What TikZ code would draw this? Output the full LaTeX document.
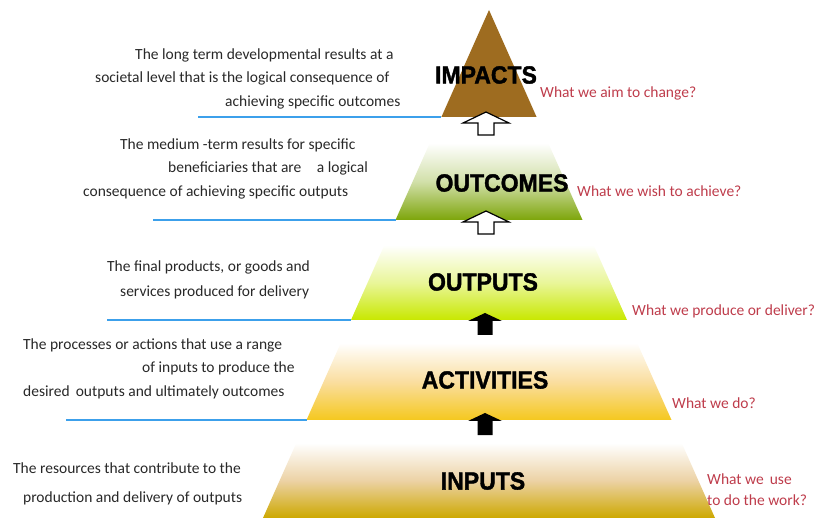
\documentclass[tikz,border=0pt]{standalone}
\usepackage{fontspec}
\setmainfont{Carlito}
\newfontfamily\labfont[BoldFeatures={FakeBold=1.6}]{Liberation Sans}
\definecolor{askred}{RGB}{190,60,75}
\definecolor{guideblue}{RGB}{60,160,235}
\definecolor{desctext}{RGB}{40,40,40}
\definecolor{impactbrown}{RGB}{158,108,32}
\definecolor{outcomegreen}{RGB}{125,165,10}
\definecolor{outputlime}{RGB}{200,232,0}
\definecolor{activityyellow}{RGB}{245,200,30}
\definecolor{activitymid}{RGB}{250,222,160}
\definecolor{inputgold}{RGB}{205,168,0}
\definecolor{inputmid}{RGB}{236,210,165}
\begin{document}
\begin{tikzpicture}[x=1pt,y=-1pt,
  desc/.style={anchor=base west, inner sep=0pt, font=\fontsize{15.5}{18}\selectfont, text=desctext},
  ask/.style={anchor=base west, inner sep=0pt, font=\fontsize{15.5}{18}\selectfont, text=askred},
  level/.style={inner sep=0pt, font=\labfont\bfseries\fontsize{23}{26}\selectfont, yscale=1.08, transform shape},
  guide/.style={draw=guideblue, line width=1.6pt},
  hollowup/.pic={\path[pic actions] (0,0)--(23,11)--(8,11)--(8,23)--(-8,23)--(-8,11)--(-23,11)--cycle;},
  solidup/.pic={\path[pic actions] (0,0)--(17,8)--(7.5,8)--(7.5,22)--(-7.5,22)--(-7.5,8)--(-17,8)--cycle;}
]
\useasboundingbox (0,0) rectangle (822,518);

% pyramid bands
\coordinate (apex) at (489,10);
\coordinate (impBL) at (441.4,117);
\coordinate (impBR) at (536.6,117);
\fill[impactbrown] (apex)--(impBR)--(impBL)--cycle;

\coordinate (ocTL) at (429.8,143);
\coordinate (ocTR) at (548.2,143);
\coordinate (ocBL) at (395.5,220);
\coordinate (ocBR) at (582.5,220);
\shade[top color=white, bottom color=outcomegreen, middle color=outcomegreen!35] (ocTL)--(ocTR)--(ocBR)--(ocBL)--cycle;

\coordinate (opTL) at (384.4,245);
\coordinate (opTR) at (593.6,245);
\coordinate (opBL) at (351,320);
\coordinate (opBR) at (627,320);
\shade[top color=white, bottom color=outputlime, middle color=outputlime!40] (opTL)--(opTR)--(opBR)--(opBL)--cycle;

\coordinate (acTL) at (340.8,343);
\coordinate (acTR) at (637.2,343);
\coordinate (acBL) at (306.5,420);
\coordinate (acBR) at (671.5,420);
\shade[top color=white, bottom color=activityyellow, middle color=activitymid] (acTL)--(acTR)--(acBR)--(acBL)--cycle;

\coordinate (inTL) at (296.3,443);
\coordinate (inTR) at (681.7,443);
\coordinate (inBL) at (263,518);
\coordinate (inBR) at (715,518);
\shade[top color=white, bottom color=inputgold, middle color=inputmid] (inTL)--(inTR)--(inBR)--(inBL)--cycle;

% level labels
\node[level] (impacts) at (486,75) {IMPACTS};
\node[level] (outcomes) at (502,183) {OUTCOMES};
\node[level] (outputs) at (483,282) {OUTPUTS};
\node[level] (activities) at (485,380) {ACTIVITIES};
\node[level] (inputs) at (483,481) {INPUTS};

% arrows between levels
\pic[draw=black, fill=white, line width=1.2pt] at (486,112) {hollowup};
\pic[draw=black, fill=white, line width=1.2pt] at (486,211) {hollowup};
\pic[fill=black] at (485,313) {solidup};
\pic[fill=black] at (485,413) {solidup};

% guide lines
\coordinate (g1) at (198,117);
\coordinate (g2) at (153,220);
\coordinate (g3) at (107,320);
\coordinate (g4) at (66,420);
\draw[guide] (g1) -- (impBL);
\draw[guide] (g2) -- (ocBL);
\draw[guide] (g3) -- (opBL);
\draw[guide] (g4) -- (acBL);

% descriptions
\node[desc] (d1a) at (135,60) {The long term developmental results at a};
\node[desc] (d1b) at (95,83) {societal level that is the logical consequence of};
\node[desc] (d1c) at (225,107) {achieving specific outcomes};

\node[desc] (d2a) at (120,150) {The medium -term results for specific};
\node[desc] (d2b) at (168,173) {beneficiaries that are\quad a logical};
\node[desc] (d2c) at (83,197) {consequence of achieving specific outputs};

\node[desc] (d3a) at (107,272) {The final products, or goods and};
\node[desc] (d3b) at (120,297) {services produced for delivery};

\node[desc] (d4a) at (23,350) {The processes or actions that use a range};
\node[desc] (d4b) at (142,373) {of inputs to produce the};
\node[desc] (d4c) at (23,397) {desired\, outputs and ultimately outcomes};

\node[desc] (d5a) at (13,473) {The resources that contribute to the};
\node[desc] (d5b) at (23,502) {production and delivery of outputs};

% questions
\node[ask] (q1) at (540,98) {What we aim to change?};
\node[ask] (q2) at (577,197) {What we wish to achieve?};
\node[ask] (q3) at (632,316) {What we produce or deliver?};
\node[ask] (q4) at (672,409) {What we do?};
\node[ask] (q5a) at (707,484) {What we\, use};
\node[ask] (q5b) at (707,505) {to do the work?};
\end{tikzpicture}
\end{document}
